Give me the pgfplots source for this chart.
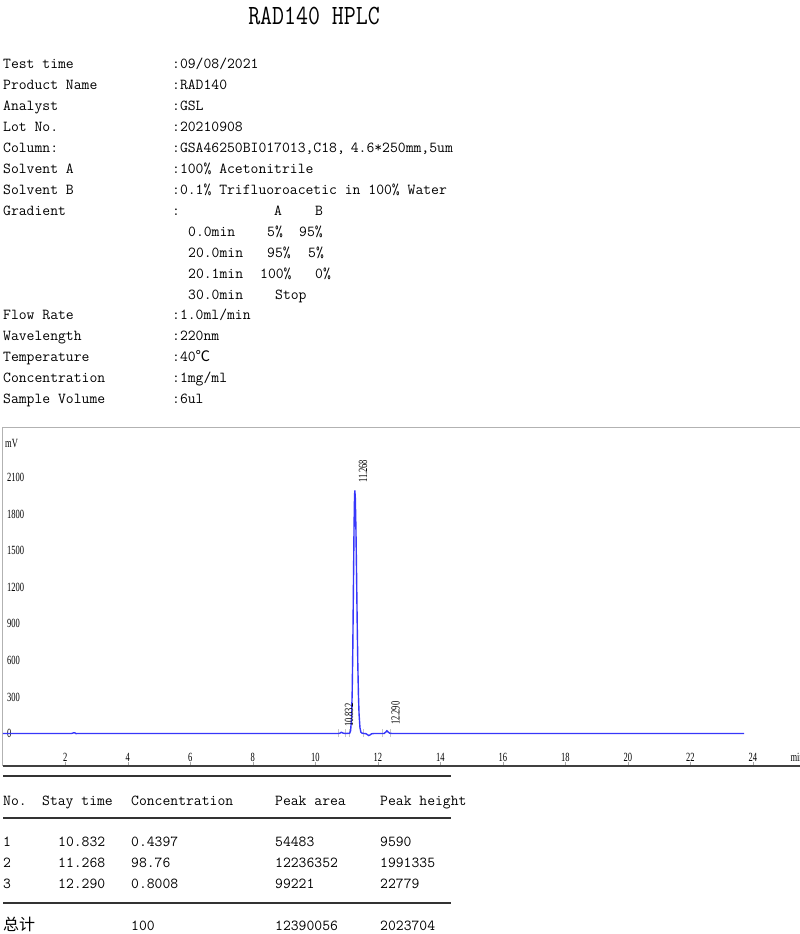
\documentclass[border=0pt]{standalone}
\usepackage{fontspec}
\usepackage{graphicx}
\usepackage{pgfplots}
\pgfplotsset{compat=1.18}
\setmainfont{Liberation Serif}
\newfontfamily\cjk{Noto Sans CJK SC}
\newfontfamily\tickf[FakeStretch=0.68]{Liberation Serif}
\definecolor{trace}{RGB}{55,55,250}
\newcommand{\mono}{\ttfamily}
\newcommand{\bodyfont}{\ttfamily\fontsize{15.24}{18}\selectfont}
\newcommand{\tfont}{\tickf\fontsize{12.5}{13}\selectfont}
\begin{document}
\begin{tikzpicture}
\begin{scope}[x=1pt,y=1pt]
% title
\node[anchor=base, inner sep=0pt, font=\ttfamily\fontsize{23.2}{26}\selectfont] at (314,-25) {\scalebox{1}[1.2]{RAD140 HPLC}};
% info block
\begin{scope}[every node/.style={anchor=base west, inner sep=0pt, font=\bodyfont}]
\node at (3,-68.5) {Test time};      \node at (172,-68.5) {:09/08/2021};
\node at (3,-89.5) {Product Name};   \node at (172,-89.5) {:RAD140};
\node at (3,-110.5) {Analyst};       \node at (172,-110.5) {:GSL};
\node at (3,-131.5) {Lot No.};       \node at (172,-131.5) {:20210908};
\node at (3,-152.5) {Column:};       \node at (172,-152.5) {:GSA46250BI017013,C18,\hspace{6pt}4.6*250mm,5um};
\node at (3,-173.5) {Solvent A};     \node at (172,-173.5) {:100\% Acetonitrile};
\node at (3,-194.5) {Solvent B};     \node at (172,-194.5) {:0.1\% Trifluoroacetic in 100\% Water};
\node at (3,-215.5) {Gradient};      \node at (172,-215.5) {:};
\node at (274,-215.5) {A}; \node at (315,-215.5) {B};
\node at (188,-236.5) {0.0min};  \node at (267,-236.5) {5\%};  \node at (299,-236.5) {95\%};
\node at (188,-257.5) {20.0min}; \node at (267,-257.5) {95\%}; \node at (308,-257.5) {5\%};
\node at (188,-278.5) {20.1min}; \node at (260,-278.5) {100\%};\node at (315,-278.5) {0\%};
\node at (188,-299.5) {30.0min}; \node at (275,-299.5) {Stop};
\node at (3,-319.5) {Flow Rate};     \node at (172,-319.5) {:1.0ml/min};
\node at (3,-340.5) {Wavelength};    \node at (172,-340.5) {:220nm};
\node at (3,-361.5) {Temperature};   \node at (172,-361.5) {:40{\cjk\fontsize{14.5}{18}\selectfont ℃}};
\node at (3,-382.5) {Concentration}; \node at (172,-382.5) {:1mg/ml};
\node at (3,-403.5) {Sample Volume}; \node at (172,-403.5) {:6ul};
% table
\node at (3,-805) {No.};
\node at (42,-805) {Stay time};
\node at (131,-805) {Concentration};
\node at (275,-805) {Peak area};
\node at (380,-805) {Peak height};
\node at (3,-846) {1}; \node at (58,-846) {10.832}; \node at (131,-846) {0.4397}; \node at (275,-846) {54483};    \node at (380,-846) {9590};
\node at (3,-867) {2}; \node at (58,-867) {11.268}; \node at (131,-867) {98.76};  \node at (275,-867) {12236352}; \node at (380,-867) {1991335};
\node at (3,-888) {3}; \node at (58,-888) {12.290}; \node at (131,-888) {0.8008}; \node at (275,-888) {99221};    \node at (380,-888) {22779};
\node[font=\cjk\fontsize{16}{18}\selectfont] at (3,-930) {总计};
\node at (131,-930) {100}; \node at (275,-930) {12390056}; \node at (380,-930) {2023704};
\end{scope}
\draw[black!80, line width=1.8pt] (3,-776) -- (451,-776);
\draw[black!80, line width=1.8pt] (3,-818) -- (451,-818);
\draw[black!80, line width=1.8pt] (3,-903) -- (451,-903);
\end{scope}
% chromatogram
\begin{axis}[
  at={(2.5pt,-766pt)}, anchor=south west,
  scale only axis, width=812.8pt, height=339pt,
  xmin=-0.01, xmax=26, ymin=-267, ymax=2515,
  axis line style={draw=none},
  xtick={2,4,...,24}, ytick={0,300,...,2100},
  scaled ticks=false,
  /pgf/number format/1000 sep={},
  /pgf/number format/assume math mode=true,
  tick align=inside, xtick pos=bottom, ytick pos=left,
  major tick length=4pt,
  xtick style={gray!70, line width=0.6pt},
  ytick style={draw=none},
  xticklabel style={font=\tfont, anchor=center, inner sep=0pt, yshift=9pt},
  yticklabel style={font=\tfont, anchor=west, inner sep=0pt, xshift=4.5pt},
  clip=false,
]
\draw[gray!60, line width=0.8pt] (rel axis cs:0,0) -- (rel axis cs:0,1) -- (rel axis cs:1,1);
\draw[black!75, line width=1.6pt] (rel axis cs:0,0) -- (rel axis cs:1,0);
\node[anchor=west, inner sep=0pt, font=\tfont] at (axis cs:0.07,2380) {mV};
\node[anchor=west, inner sep=0pt, font=\tfont] at (axis cs:25.2,-195) {min};
% integration markers
\foreach \xm in {10.74,10.95,11.09,11.52,12.15,12.41}{
  \edef\tmp{\noexpand\draw[gray!45, line width=0.6pt] (axis cs:\xm,-30) -- (axis cs:\xm,35);}\tmp
}
\addplot[trace, line width=1.4pt, no marks] coordinates {
(0,0) (2.2,0) (2.26,5) (2.3,6) (2.34,-1) (2.4,0) (10.75,0) (10.80,4) (10.83,9.6)
(10.87,5) (10.92,1) (10.98,0) (11.05,1) (11.10,3) (11.13,22) (11.16,131) (11.18,335)
(11.20,702) (11.22,1209) (11.24,1708) (11.255,1945) (11.265,1995) (11.28,1934)
(11.30,1683) (11.32,1311) (11.34,913) (11.36,570) (11.38,318) (11.40,159) (11.43,45)
(11.46,10) (11.50,2) (11.56,0) (11.62,-2) (11.67,-10) (11.71,-17) (11.75,-12)
(11.80,-3) (11.88,0) (12.20,0) (12.25,10) (12.29,22) (12.33,12) (12.38,2) (12.45,0)
(23.72,0)
};
\node[rotate=90, anchor=west, inner sep=0pt, font=\tfont] at (axis cs:11.53,2055) {11.268};
\node[rotate=90, anchor=west, inner sep=0pt, font=\tfont] at (axis cs:11.08,52) {10.832};
\node[rotate=90, anchor=west, inner sep=0pt, font=\tfont] at (axis cs:12.57,68) {12.290};
\end{axis}
\pgfresetboundingbox
\path[use as bounding box] (0pt,0pt) rectangle (800pt,-934pt);
\end{tikzpicture}
\end{document}
